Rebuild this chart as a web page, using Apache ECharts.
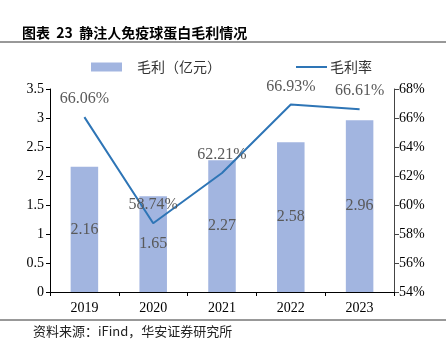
<!DOCTYPE html>
<html>
<head>
<meta charset="utf-8">
<script src="https://cdn.jsdelivr.net/npm/echarts@6/dist/echarts.min.js"></script>
<style>
  html, body { margin: 0; padding: 0; background: #fff; }
  #main { width: 448px; height: 353px; }
</style>
</head>
<body>
<div id="main"></div>
<script>
// 数据
const years = ['2019', '2020', '2021', '2022', '2023'];
const grossProfit = [2.16, 1.65, 2.27, 2.58, 2.96];      // 毛利（亿元）
const grossMargin = [66.06, 58.74, 62.21, 66.93, 66.61]; // 毛利率 %

var myChart = echarts.init(document.getElementById('main'));

const serif = '"Liberation Serif", "Times New Roman", serif';
const cjk = '"Noto Sans CJK SC", sans-serif';

const option = {
    animation: false,
    title: {
        text: '图表  23  静注人免疫球蛋白毛利情况',
        left: 17,
        top: 21,
        textStyle: { fontSize: 14, fontWeight: 'bold', color: '#000', fontFamily: cjk }
    },
    graphic: [
        { type: 'line', shape: { x1: 0, y1: 42, x2: 446, y2: 42 }, style: { stroke: '#333', lineWidth: 1 } },
        { type: 'line', shape: { x1: 0, y1: 320, x2: 446, y2: 320 }, style: { stroke: '#333', lineWidth: 1 } },
        {
            type: 'text', left: 33, top: 325,
            style: { text: '资料来源：iFind，华安证券研究所', fontSize: 13, fill: '#222', fontFamily: cjk }
        }
    ],
    legend: [
        {
            data: ['毛利（亿元）'],
            left: 86, top: 55,
            itemWidth: 31, itemHeight: 9, itemGap: 0,
            icon: 'rect',
            textStyle: { fontSize: 14, color: '#333', fontFamily: cjk, padding: [0, 0, 0, 10] }
        },
        {
            data: ['毛利率'],
            left: 291, top: 55,
            itemWidth: 31, itemHeight: 2, itemGap: 0,
            icon: 'rect',
            textStyle: { fontSize: 14, color: '#333', fontFamily: cjk, padding: [0, 0, 0, -2] }
        }
    ],
    grid: { left: 50, right: 54, top: 89, bottom: 61 },
    xAxis: {
        type: 'category',
        data: years,
        axisLine: { lineStyle: { color: '#000' } },
        axisTick: { show: true, alignWithLabel: false, length: 4, lineStyle: { color: '#000' } },
        axisLabel: { color: '#000', fontSize: 14, fontFamily: serif, margin: 9 }
    },
    yAxis: [
        {
            type: 'value', min: 0, max: 3.5, interval: 0.5,
            axisLine: { show: true, lineStyle: { color: '#000' } },
            axisTick: { show: true, length: 4, lineStyle: { color: '#000' } },
            splitLine: { show: false },
            axisLabel: { color: '#000', fontSize: 14, fontFamily: serif, margin: 6 }
        },
        {
            type: 'value', min: 54, max: 68, interval: 2,
            axisLine: { show: true, lineStyle: { color: '#444' } },
            axisTick: { show: true, length: 5, lineStyle: { color: '#444' } },
            splitLine: { show: false },
            axisLabel: { color: '#000', fontSize: 14, fontFamily: serif, margin: 5, formatter: '{value}%' }
        }
    ],
    series: [
        {
            name: '毛利（亿元）',
            type: 'bar',
            data: grossProfit,
            barWidth: '40%',
            itemStyle: { color: '#a2b5e0' },
            label: {
                show: true, position: 'inside',
                color: '#595959', fontSize: 16, fontFamily: serif
            }
        },
        {
            name: '毛利率',
            type: 'line',
            yAxisIndex: 1,
            data: grossMargin,
            symbol: 'circle',
            symbolSize: 0,
            lineStyle: { color: '#2e75b6', width: 2 },
            itemStyle: { color: '#2e75b6' },
            label: {
                show: true, position: 'top', distance: 10,
                color: '#595959', fontSize: 16, fontFamily: serif,
                formatter: p => p.value.toFixed(2) + '%'
            }
        }
    ]
};

myChart.setOption(option);
</script>
</body>
</html>
